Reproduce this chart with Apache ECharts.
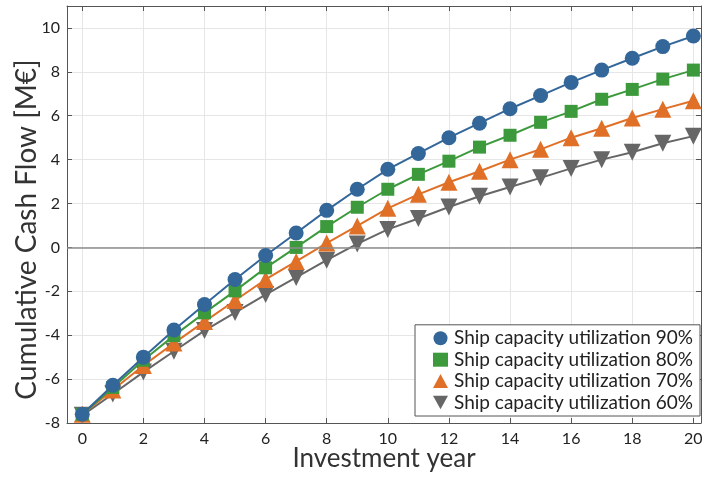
<!DOCTYPE html>
<html>
<head>
<meta charset="utf-8">
<script src="https://cdn.jsdelivr.net/npm/echarts@6/dist/echarts.min.js"></script>
<style>
  html, body { margin: 0; padding: 0; background: #fff; }
  #chart { width: 702px; height: 479px; }
</style>
</head>
<body>
<div id="chart"></div>
<script>
// investment years
const years = [0, 1, 2, 3, 4, 5, 6, 7, 8, 9, 10, 11, 12, 13, 14, 15, 16, 17, 18, 19, 20]

// cumulative cash flow [M€]
const util90 = [-7.6, -6.28, -5.0, -3.76, -2.6, -1.46, -0.37, 0.66, 1.69, 2.65, 3.56, 4.28, 5.0, 5.66, 6.32, 6.92, 7.52, 8.08, 8.62, 9.15, 9.63]
const util80 = [-7.6, -6.38, -5.14, -4.02, -2.98, -1.98, -0.93, 0.0, 0.95, 1.83, 2.65, 3.33, 3.93, 4.57, 5.11, 5.7, 6.2, 6.75, 7.2, 7.67, 8.08]
const util70 = [-7.6, -6.5, -5.38, -4.36, -3.38, -2.42, -1.46, -0.64, 0.2, 0.98, 1.78, 2.42, 2.97, 3.47, 4.0, 4.47, 5.0, 5.43, 5.9, 6.3, 6.68]
const util60 = [-7.65, -6.68, -5.68, -4.73, -3.79, -2.97, -2.15, -1.37, -0.58, 0.16, 0.82, 1.32, 1.84, 2.33, 2.75, 3.17, 3.6, 4.0, 4.34, 4.75, 5.07]

const seriesNames = [
  'Ship capacity utilization 90%',
  'Ship capacity utilization 80%',
  'Ship capacity utilization 70%',
  'Ship capacity utilization 60%'
]

const FONT = 'Lato'
const chart = echarts.init(document.getElementById('chart'))

const mk = (vals) => years.map((x, i) => [x, vals[i]])
const downTri = 'path://M0,0 L10,0 L5,9 Z'

// top / right axes only draw the box and inner ticks
const axisBase = {
  axisLine: { show: true, onZero: false, lineStyle: { color: '#555', width: 1 } },
  axisTick: { show: true, inside: true, length: 5, lineStyle: { color: '#555' } },
  splitLine: { show: false },
  axisLabel: { show: false }
}

chart.setOption({
  animation: false,
  textStyle: { fontFamily: FONT },
  grid: { left: 67, right: 1, top: 6, bottom: 56, containLabel: false, outerBoundsMode: 'none' },
  legend: {
    orient: 'vertical',
    right: 2,
    bottom: 63,
    padding: [4, 7, 4, 18],
    itemGap: 2.4,
    itemWidth: 15,
    itemHeight: 14,
    backgroundColor: '#fff',
    borderColor: '#555',
    borderWidth: 1,
    borderRadius: 0,
    textStyle: { fontFamily: FONT, fontSize: 19, lineHeight: 16, color: '#222', padding: [0, 0, 0, 1] },
    data: [
      { name: seriesNames[0], icon: 'circle' },
      { name: seriesNames[1], icon: 'rect' },
      { name: seriesNames[2], icon: 'triangle' },
      { name: seriesNames[3], icon: downTri }
    ]
  },
  xAxis: [
    {
      type: 'value',
      min: -0.5,
      max: 20.25,
      splitNumber: 10,
      position: 'bottom',
      name: 'Investment year',
      nameLocation: 'middle',
      nameGap: 23,
      nameMoveOverlap: false,
      nameTextStyle: { fontFamily: FONT, fontSize: 26, color: '#333' },
      axisLine: { show: true, onZero: false, lineStyle: { color: '#555', width: 1 } },
      axisTick: { show: true, inside: true, length: 5, lineStyle: { color: '#555' } },
      axisLabel: { fontFamily: FONT, fontSize: 16, color: '#222', margin: 8, showMinLabel: false, showMaxLabel: false },
      splitLine: { show: true, lineStyle: { color: '#e6e6e6', width: 1 } }
    },
    { type: 'value', min: -0.5, max: 20.25, splitNumber: 10, position: 'top', ...axisBase }
  ],
  yAxis: [
    {
      type: 'value',
      min: -8,
      max: 11,
      interval: 2,
      position: 'left',
      name: 'Cumulative Cash Flow [M€]',
      nameLocation: 'middle',
      nameGap: 26,
      nameMoveOverlap: false,
      nameTextStyle: { fontFamily: FONT, fontSize: 28, color: '#333', padding: [0, 30, 0, 0] },
      axisLine: { show: true, onZero: false, lineStyle: { color: '#555', width: 1 } },
      axisTick: { show: true, inside: true, length: 5, lineStyle: { color: '#555' } },
      axisLabel: { fontFamily: FONT, fontSize: 16, color: '#222', margin: 7, showMaxLabel: false },
      splitLine: { show: true, lineStyle: { color: '#e6e6e6', width: 1 } }
    },
    { type: 'value', min: -8, max: 11, interval: 2, position: 'right', ...axisBase }
  ],
  series: [
    {
      name: seriesNames[0], type: 'line', data: mk(util90),
      symbol: 'circle', symbolSize: 15,
      itemStyle: { color: '#336699' }, lineStyle: { color: '#336699', width: 2 },
      z: 5,
      markLine: {
        silent: true, symbol: 'none', label: { show: false },
        lineStyle: { color: '#8c8c8c', width: 1.5, type: 'solid' },
        data: [{ yAxis: 0 }]
      }
    },
    {
      name: seriesNames[1], type: 'line', data: mk(util80),
      symbol: 'rect', symbolSize: 13,
      itemStyle: { color: '#3c9a3c' }, lineStyle: { color: '#3c9a3c', width: 2 },
      z: 4
    },
    {
      name: seriesNames[2], type: 'line', data: mk(util70),
      symbol: 'triangle', symbolSize: 17,
      itemStyle: { color: '#e07027' }, lineStyle: { color: '#e07027', width: 2 },
      z: 3
    },
    {
      name: seriesNames[3], type: 'line', data: mk(util60),
      symbol: 'triangle', symbolRotate: 180, symbolSize: 17,
      itemStyle: { color: '#666666' }, lineStyle: { color: '#666666', width: 2 },
      z: 2
    }
  ]
})
</script>
</body>
</html>
